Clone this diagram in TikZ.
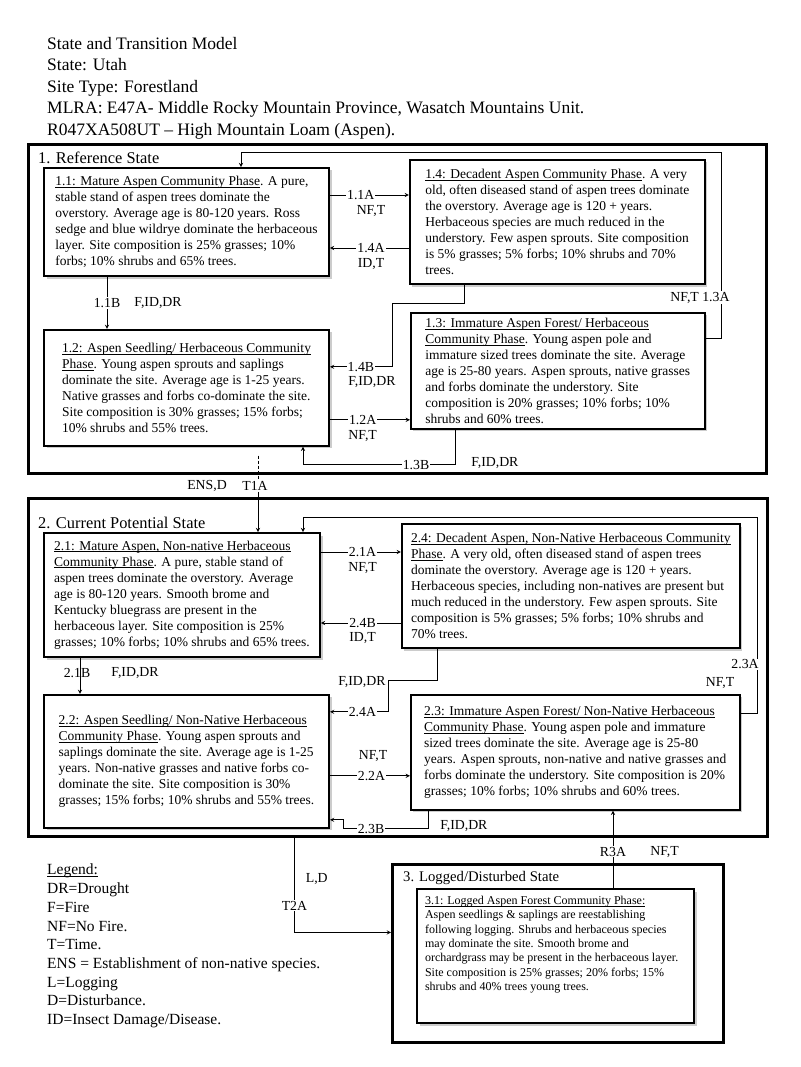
\documentclass[tikz,border=0pt]{standalone}
\usepackage{fontspec}
\setmainfont{Liberation Serif}
\usetikzlibrary{positioning, shadows, arrows}
\newcommand{\phasename}[1]{\underline{\raisebox{0pt}[\height][0pt]{#1}}}
\tikzstyle{statebox} = [rectangle, draw=black, line width=2.8pt, anchor=north west, inner sep=0pt]
\tikzstyle{statename} = [anchor=west, inner sep=0pt, font=\fontsize{16.4}{19}\selectfont]
\tikzstyle{phase} = [rectangle, draw=black, line width=1.8pt, fill=white, align=left, inner xsep=4pt, inner ysep=2pt, font=\fontsize{13.5}{16}\selectfont, drop shadow={shadow xshift=2.5pt, shadow yshift=-2.5pt, fill=black!40}]
\tikzstyle{arrow} = [line width=0.9pt, ->, >=stealth]
\tikzstyle{conn} = [line width=0.9pt]
\tikzstyle{tlabel} = [inner sep=1pt, font=\fontsize{13.8}{15}\selectfont]
\tikzstyle{cover} = [tlabel, fill=white]

\begin{document}
\begin{tikzpicture}[x=1pt, y=-1pt]
	\useasboundingbox (0,0) rectangle (800,1067);
	\node (title) [anchor=north west, align=left, inner sep=0pt, font=\fontsize{17.5}{21.5}\selectfont] at (47,37) {State and Transition Model\\State: Utah\\Site Type: Forestland\\MLRA: E47A- Middle Rocky Mountain Province, Wasatch Mountains Unit.\\R047XA508UT -- High Mountain Loam (Aspen).};
	\node (s1) [statebox, minimum width=738pt, minimum height=329pt] at (27,143) {};
	\node (s1name) [statename] at (38,158) {1. Reference State};
	\node (s2) [statebox, minimum width=739pt, minimum height=338pt] at (27,497) {};
	\node (s2name) [statename] at (38,523) {2. Current Potential State};
	\node (s3) [statebox, minimum width=331pt, minimum height=178pt] at (391,863) {};
	\node (s3name) [statename, font=\fontsize{14.7}{17}\selectfont] at (403,878) {3. Logged/Disturbed State};
	\node (b11) [phase, minimum width=285pt, minimum height=108pt] at (186.5,222) {\phasename{1.1: Mature Aspen Community Phase}. A pure,\\stable stand of aspen trees dominate the\\overstory.  Average age is 80-120 years. Ross\\sedge and blue wildrye dominate the herbaceous\\layer.  Site composition is 25\% grasses; 10\%\\forbs; 10\% shrubs and 65\% trees.};
	\node (b14) [phase, minimum width=295pt, minimum height=124pt, right=79pt of b11] {\phasename{1.4: Decadent Aspen Community Phase}. A very\\old, often diseased stand of aspen trees dominate\\the overstory.  Average age is 120 + years.\\Herbaceous species are much reduced in the\\understory.  Few aspen sprouts. Site composition\\is 5\% grasses; 5\% forbs; 10\% shrubs and 70\%\\trees.};
	\node (b12) [phase, minimum width=285pt, minimum height=116pt, below=52pt of b11] {\phasename{1.2: Aspen Seedling/ Herbaceous Community}\\\phasename{Phase}. Young aspen sprouts and saplings\\dominate the site.  Average age is 1-25 years.\\Native grasses and forbs co-dominate the site.\\Site composition is 30\% grasses; 15\% forbs;\\10\% shrubs and 55\% trees.};
	\node (b13) [phase, minimum width=294pt, minimum height=116pt, right=80pt of b12, yshift=17pt] {\phasename{1.3: Immature Aspen Forest/ Herbaceous}\\\phasename{Community Phase}. Young aspen pole and\\immature sized trees dominate the site.  Average\\age is 25-80 years. Aspen sprouts, native grasses\\and forbs dominate the understory.  Site\\composition is 20\% grasses; 10\% forbs; 10\%\\shrubs and 60\% trees.};
	\node (b21) [phase, minimum width=276pt, minimum height=124pt] at (182,595) {\phasename{2.1: Mature Aspen, Non-native Herbaceous}\\\phasename{Community Phase}. A pure, stable stand of\\aspen trees dominate the overstory.  Average\\age is 80-120 years. Smooth brome and\\Kentucky bluegrass are present in the\\herbaceous layer.  Site composition is 25\%\\grasses; 10\% forbs; 10\% shrubs and 65\% trees.};
	\node (b24) [phase, minimum width=338pt, minimum height=124pt, right=80pt of b21, yshift=9pt] {\phasename{2.4: Decadent Aspen, Non-Native Herbaceous Community}\\\phasename{Phase}. A very old, often diseased stand of aspen trees\\dominate the overstory.  Average age is 120 + years.\\Herbaceous species, including non-natives are present but\\much reduced in the understory.  Few aspen sprouts. Site\\composition is 5\% grasses; 5\% forbs; 10\% shrubs and\\70\% trees.};
	\node (b22) [phase, minimum width=285pt, minimum height=133pt, below=36pt of b21, xshift=4.5pt] {\phasename{2.2: Aspen Seedling/ Non-Native Herbaceous}\\\phasename{Community Phase}. Young aspen sprouts and\\saplings dominate the site.  Average age is 1-25\\years. Non-native grasses and native forbs co-\\dominate the site.  Site composition is 30\%\\grasses; 15\% forbs; 10\% shrubs and 55\% trees.};
	\node (b23) [phase, minimum width=329pt, minimum height=115pt, right=80pt of b22, yshift=9pt] {\phasename{2.3: Immature Aspen Forest/ Non-Native Herbaceous}\\\phasename{Community Phase}. Young aspen pole and immature\\sized trees dominate the site.  Average age is 25-80\\years. Aspen sprouts, non-native and native grasses and\\forbs dominate the understory.  Site composition is 20\%\\grasses; 10\% forbs; 10\% shrubs and 60\% trees.};
	\node (b31) [phase, inner xsep=8pt] at (555.5,956) {\parbox[c][130pt][t]{261pt}{\fontsize{12}{14.3}\selectfont\raggedright\rule{0pt}{13.5pt}\phasename{3.1: Logged Aspen Forest Community Phase:}\\Aspen seedlings \& saplings are reestablishing\\following logging. Shrubs and herbaceous species\\may dominate the site. Smooth brome and\\orchardgrass may be present in the herbaceous layer.\\Site composition is 25\% grasses; 20\% forbs; 15\%\\shrubs and 40\% trees young trees.}};
	\node (legend) [anchor=north west, align=left, inner sep=0pt, font=\fontsize{15.5}{18.7}\selectfont] at (47,864) {\phasename{Legend:}\\DR=Drought\\F=Fire\\NF=No Fire.\\T=Time.\\ENS = Establishment of non-native species.\\L=Logging\\D=Disturbance.\\ID=Insect Damage/Disease.};
	\draw [arrow] ([yshift=27pt]b11.east) -- node[cover, pos=0.39]{1.1A} node[tlabel, pos=0.52, yshift=-16pt]{NF,T} ([yshift=27pt]b11.east -| b14.west);
	\draw [arrow] ([yshift=-26pt]b14.west) -- node[cover, pos=0.48]{1.4A} node[tlabel, pos=0.48, yshift=-16pt]{ID,T} ([yshift=-26pt]b14.west -| b11.east);
	\draw [arrow] ([xshift=-79.5pt]b11.south) -- node[cover]{1.1B} node[tlabel, right=26pt]{F,ID,DR} ([xshift=-79.5pt]b11.south |- b12.north);
	\draw [arrow] ([xshift=-92.5pt]b14.south) |- (392,303) |- node[cover, pos=0.75]{1.4B} node[tlabel, pos=0.75, yshift=-15pt, xshift=11pt]{F,ID,DR} ([yshift=21pt]b12.east);
	\draw [arrow] ([yshift=-32pt]b12.east) -- node[cover, pos=0.41]{1.2A} node[tlabel, pos=0.41, yshift=-16pt]{NF,T} ([yshift=-32pt]b12.east -| b13.west);
	\draw [arrow] ([xshift=-102pt]b13.south) -- ++(0,35) node[tlabel, right=14pt, yshift=2pt]{F,ID,DR} -| node[cover, pos=0.13]{1.3B} ([xshift=116.5pt]b12.south);
	\draw [arrow] ([yshift=32pt]b13.east) -| node[cover, pos=0.61, xshift=-21pt]{NF,T\ 1.3A} (721,152) -| ([xshift=54.5pt]b11.north);
	\node (ensd) [tlabel] at (207,486) {ENS,D};
	\node (t1a) [cover] at (255,486) {T1A};
	\draw [conn, dash pattern=on 3pt off 2pt] ([xshift=71.5pt, yshift=-9pt]b12.south) -- ([xshift=3pt]t1a.north);
	\draw [arrow] ([xshift=3pt]t1a.south) -- ([xshift=3pt]t1a.south |- b21.north);
	\draw [arrow] ([yshift=43pt]b21.east) -- node[cover, pos=0.52]{2.1A} node[tlabel, pos=0.52, yshift=-16pt]{NF,T} ([yshift=43pt]b21.east -| b24.west);
	\draw [arrow] ([yshift=-28pt]b21.east -| b24.west) -- node[cover, pos=0.48]{2.4B} node[tlabel, pos=0.48, yshift=-15pt]{ID,T} ([yshift=-28pt]b21.east);
	\draw [arrow] ([xshift=-102pt]b21.south) -- node[tlabel, pos=0.42, xshift=-3pt]{2.1B} node[tlabel, pos=0.42, right=30pt]{F,ID,DR} ([xshift=-102pt]b21.south |- b22.north);
	\draw [arrow] ([xshift=-133pt]b24.south) |- (388,680) node[tlabel, left=1pt, yshift=-2pt]{F,ID,DR} |- node[cover, pos=0.72]{2.4A} ([yshift=49.5pt]b22.east);
	\draw [arrow] ([yshift=-14.5pt]b22.east) -- node[cover, pos=0.52]{2.2A} node[tlabel, pos=0.54, yshift=20pt]{NF,T} ([yshift=-14.5pt]b22.east -| b23.west);
	\draw [arrow] ([xshift=-146.5pt]b23.south) -- ++(0,18) node[tlabel, right=10pt, yshift=3pt]{F,ID,DR} -| node[cover, pos=0.34]{2.3B} ([xshift=14pt, yshift=-58.5pt]b22.east) -- ([yshift=-58.5pt]b22.east);
	\draw [arrow] ([yshift=38.5pt]b23.east) -| node[cover, pos=0.626, xshift=-12pt]{2.3A} node[tlabel, pos=0.577, xshift=-37pt]{NF,T} (757,517) -| ([xshift=121pt]b21.north);
	\draw [arrow] ([xshift=-103.5pt]s2.south) |- node[cover, pos=0.36]{T2A} node[tlabel, pos=0.22, right=10pt]{L,D} ([yshift=21pt]s3.west);
	\draw [arrow] ([xshift=57.5pt]b31.north) -- node[cover, pos=0.47]{R3A} node[tlabel, pos=0.47, right=36pt]{NF,T} ([xshift=57.5pt]b31.north |- b23.south);
\end{tikzpicture}
\end{document}
